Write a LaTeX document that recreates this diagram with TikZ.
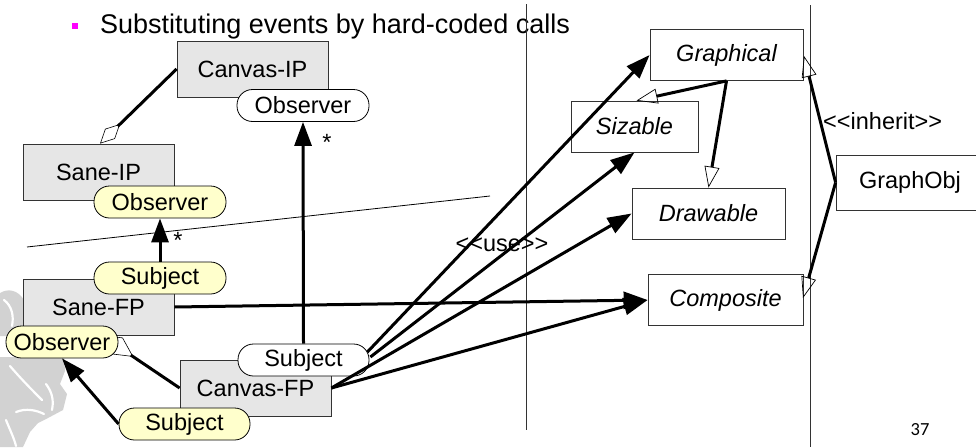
\documentclass[tikz,border=0pt]{standalone}
\usepackage{fontspec}
\setmainfont{Liberation Sans}
\newfontfamily\pagenumfont{Carlito}
\usetikzlibrary{arrows.meta,calc,backgrounds}
\definecolor{boxgrey}{HTML}{E6E6E6}
\definecolor{pillyellow}{HTML}{FFFFCC}
\definecolor{edgegrey}{HTML}{333333}
\definecolor{figgrey}{HTML}{D2D2D2}
\definecolor{bulletmagenta}{HTML}{FF00FF}

\begin{document}
\begin{tikzpicture}[x=1pt,y=-1pt,
  lbl/.style={font=\fontsize{23.5}{28}\selectfont},
  classbox/.style={lbl, draw=edgegrey, line width=0.8pt, fill=boxgrey,
    inner sep=0pt, minimum width=151pt, minimum height=56pt},
  ifbox/.style={font=\fontsize{23.5}{28}\selectfont\itshape, draw=edgegrey,
    line width=0.8pt, fill=white, inner sep=0pt, minimum height=51pt},
  pill/.style={lbl, draw=black, line width=0.8pt, fill=white,
    rounded corners=15.5pt, inner sep=0pt, minimum height=32pt},
  ypill/.style={pill, fill=pillyellow},
  use/.style={line width=3pt, -{Triangle[length=24pt,width=17pt]}},
  gen/.style={line width=3pt,
    -{Triangle[open,length=21pt,width=15pt,line width=0.7pt]}},
  thinrule/.style={line width=0.8pt, draw=edgegrey},
  figstroke/.style={white, line width=2.2pt, line cap=round},
]
\useasboundingbox (0,0) rectangle (976,447);

% faint clip-art figure in the lower left corner
\fill[figgrey] (0,293) .. controls (8,288) and (18,290) .. (24,300) -- (24,336) -- (0,336) -- cycle;
\draw[figstroke] (4,300) .. controls (12,306) and (14,316) .. (12,326);
\fill[figgrey] (0,357) -- (64,357) -- (65,371) -- (60,384) -- (67,394)
  -- (63,410) -- (48,418) -- (38,423) -- (30,432) -- (23,447) -- (0,447) -- cycle;
\draw[figstroke] (10,366) .. controls (22,380) and (34,392) .. (42,400);
\draw[figstroke] (46,384) .. controls (52,392) and (54,400) .. (52,410);
\draw[figstroke] (16,412) .. controls (26,408) and (36,410) .. (44,414);
\draw[figstroke] (6,420) .. controls (10,430) and (14,438) .. (16,446);

% header
\fill[bulletmagenta] (72,23) rectangle (78,29);
\node[anchor=base west, inner sep=0pt, font=\fontsize{27}{32}\selectfont] (head) at (100,33)
  {Substituting events by hard-coded calls};

% separating rules
\draw[thinrule] (526,4) -- (526,430);
\draw[thinrule] (810,5) -- (810,447);
\draw[line width=0.8pt] (27,247) -- (490,196);

% classes
\node[classbox] (canvasip) at (252.5,69) {Canvas-IP};
\node[classbox] (saneip) at (98.5,172) {Sane-IP};
\node[classbox] (sanefp) at (98.5,307) {Sane-FP};
\node[classbox] (canvasfp) at (255.5,388) {Canvas-FP};

\node[ifbox, minimum width=153pt] (graphical) at (726.5,55) {Graphical};
\node[ifbox, minimum width=127pt] (sizable) at (634.5,126.5) {Sizable};
\node[ifbox, minimum width=153pt] (drawable) at (708.5,213.5) {Drawable};
\node[ifbox, minimum width=155pt] (composite) at (725.5,300) {Composite};
\node[lbl, draw=edgegrey, line width=0.8pt, fill=white, inner sep=0pt,
  minimum width=148pt, minimum height=55pt] (graphobj) at (910,182.5) {GraphObj};

% role interfaces
\node[pill, minimum width=132pt] (obsci) at (303,105.5) {Observer};
\node[ypill, minimum width=132pt] (obssi) at (160,202) {Observer};
\node[ypill, minimum width=132pt] (subsf) at (160,278) {Subject};
\node[ypill, minimum width=112pt] (obsl) at (62,342) {Observer};
\node[pill, minimum width=131pt] (subcf) at (303.5,360) {Subject};
\node[ypill, minimum width=131pt] (subb) at (184.5,424) {Subject};

% aggregation from Canvas-FP, partly hidden behind the Observer role
\coordinate (aggend) at (101,335);
\begin{scope}[on background layer]
  \draw[line width=3pt, -{Diamond[open,length=39pt,width=20pt,line width=0.6pt]}]
    (canvasfp.west) -- (aggend);
\end{scope}

% aggregation Canvas-IP / Sane-IP
\draw[line width=3pt, -{Diamond[open,length=28pt,width=14pt,line width=0.6pt]}]
  (canvasip.west) -- ($(saneip.north)+(1.5,0)$);

% observer notifications
\draw[use] (subcf.north) -- (obsci.south);
\draw[use] (subsf.north) -- (obssi.south);
\draw[use] (subb.west) -- (obsl.south);
\node[lbl, inner sep=0pt] (star1) at (327,142) {*};
\node[lbl, inner sep=0pt] (star2) at (178,240) {*};

% use dependencies
\coordinate (u1) at ($(subcf.east)+(-2,-8)$);
\coordinate (u2) at ($(subcf.east)+(1,-3)$);
\draw[use] (u1) -- (graphical.west);
\draw[use] (u2) -- (sizable.south);
\draw[use] (canvasfp.east) -- (drawable.west);
\draw[use] (canvasfp.east) -- (composite.west);
\draw[use] (sanefp.east) -- (composite.west);
\node[lbl, inner sep=0pt] (uselbl) at (502,245) {<\kern0pt<use>\kern0pt>};

% inheritance among the graphical interfaces
\draw[gen] (graphical.south) -- ($(sizable.north)+(2,0)$);
\draw[gen] (graphical.south) -- (drawable.north);
\coordinate (gtop) at (804,56);
\coordinate (gbot) at (803,298);
\draw[gen] (graphobj.west) -- (gtop);
\draw[gen] (graphobj.west) -- (gbot);
\node[lbl, anchor=west, inner sep=0pt] (inh) at (823,121) {<\kern0pt<inherit>\kern0pt>};

% page number
\node[font=\pagenumfont\fontsize{18.5}{22}\selectfont, inner sep=0pt] (pg) at (920,430) {37};
\end{tikzpicture}
\end{document}
